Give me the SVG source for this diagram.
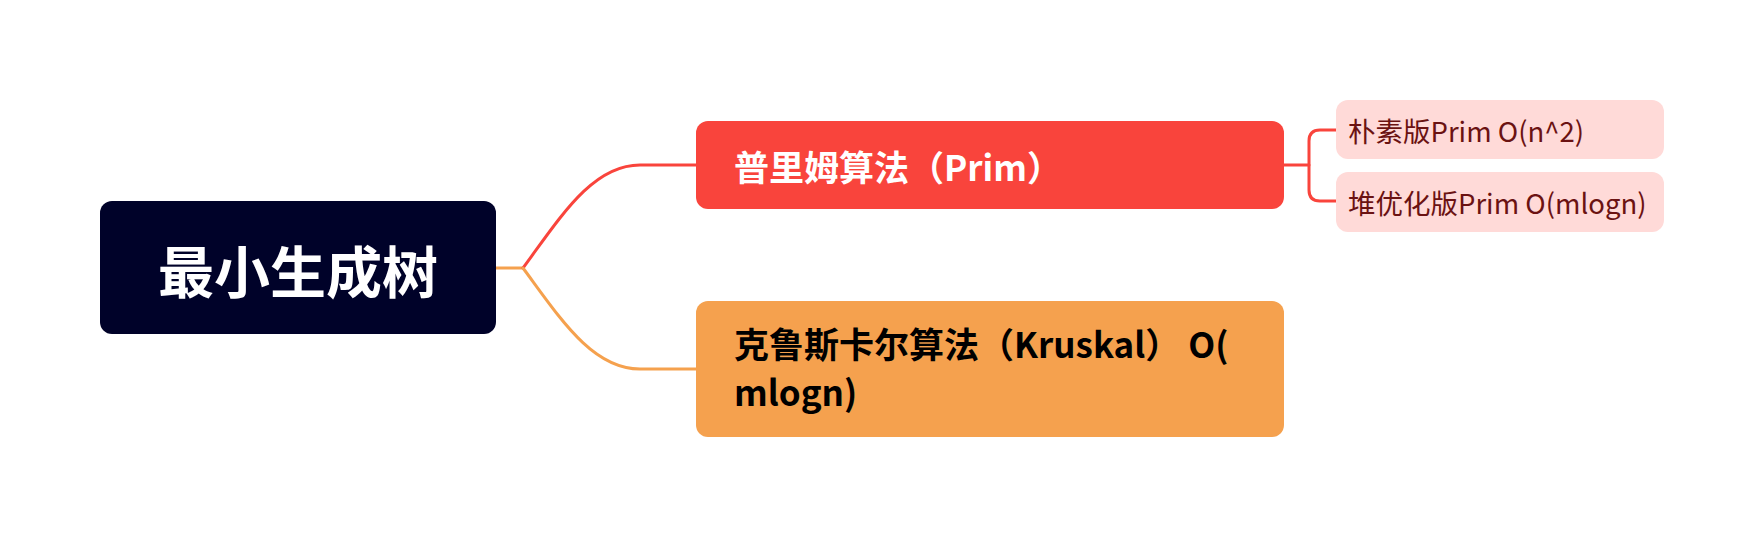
<svg xmlns="http://www.w3.org/2000/svg" width="1764" height="538" viewBox="0 0 1764 538">
<style>
text { font-family: "Noto Sans CJK SC", "Noto Sans", sans-serif; }
.root-t { font-size: 56px; font-weight: 700; fill: #FFFFFF; }
.l1-t { font-size: 35px; font-weight: 700; }
.leaf-t { font-size: 27.5px; font-weight: 400; fill: #6B1212; }
.conn { fill: none; stroke-width: 3; stroke-linecap: round; stroke-linejoin: round; }
</style>
<rect width="1764" height="538" fill="#FFFFFF"/>
<g id="connectors">
  <path class="conn" stroke="#F5A14E" d="M496 268 H523"/>
  <path class="conn" stroke="#F9443C" d="M523 268 C560 218 592 165 640 165 H696"/>
  <path class="conn" stroke="#F5A14E" d="M523 268 C560 318 592 369 640 369 H696"/>
  <path class="conn" stroke="#F9443C" d="M1284 165 H1309"/>
  <path class="conn" stroke="#F9443C" d="M1337 130 H1320 Q1309 130 1309 141 V190 Q1309 201 1320 201 H1337"/>
</g>
<g id="root">
  <rect x="100" y="201" width="396" height="133" rx="12" fill="#000229"/>
  <text class="root-t" x="298" y="268" text-anchor="middle" dominant-baseline="central">最小生成树</text>
</g>
<g id="prim">
  <rect x="696" y="121" width="588" height="88" rx="12" fill="#F9443C"/>
  <text class="l1-t" x="734" y="165" dominant-baseline="central" fill="#FFFFFF">普里姆算法（Prim）</text>
</g>
<g id="kruskal">
  <rect x="696" y="301" width="588" height="136" rx="12" fill="#F5A14E"/>
  <text class="l1-t" fill="#000000"><tspan x="734" y="358">克鲁斯卡尔算法（Kruskal） O(</tspan><tspan x="734" y="406">mlogn)</tspan></text>
</g>
<g id="leaf1">
  <rect x="1336" y="100" width="328" height="59" rx="12" fill="#FFDAD8"/>
  <text class="leaf-t" x="1348" y="130" dominant-baseline="central">朴素版Prim O(n^2)</text>
</g>
<g id="leaf2">
  <rect x="1336" y="172" width="328" height="60" rx="12" fill="#FFDAD8"/>
  <text class="leaf-t" x="1348" y="202" dominant-baseline="central">堆优化版Prim O(mlogn)</text>
</g>
</svg>
